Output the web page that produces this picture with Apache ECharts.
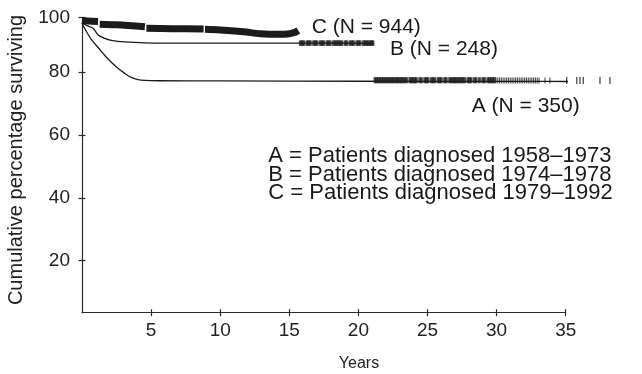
<!DOCTYPE html>
<html>
<head>
<meta charset="utf-8">
<script src="https://cdn.jsdelivr.net/npm/echarts@6/dist/echarts.min.js"></script>
<style>
html,body{margin:0;padding:0;background:#fff;}
#chart{width:642px;height:374px;}
</style>
</head>
<body>
<div id="chart"></div>
<script>
// ---- data ----
const xTickValues = [5, 10, 15, 20, 25, 30, 35];
const yTickValues = [20, 40, 60, 80, 97.3];
const yTickLabels = ['20', '40', '60', '80', '100'];

// Curve A (1958–1973)
const aTime = [0, 0.14, 0.67, 1.17, 1.67, 2.12, 2.6, 3.09, 3.57, 4.05, 4.54, 5.5, 10, 20, 30, 38.2];
const aSurv = [95.5, 94.2, 90.3, 87.7, 85.1, 83.0, 81.1, 79.5, 78.2, 77.5, 77.25, 77.15, 77.1, 77.0, 76.95, 76.9];
// Curve B (1974–1978)
const bTime = [0, 0.4, 0.8, 1.17, 1.64, 2.12, 3.09, 4.54, 8, 15.8, 21.1];
const bSurv = [95.5, 94.6, 93.8, 91.7, 90.6, 90.0, 89.5, 89.2, 89.1, 89.1, 89.0];
// Curve C (1979–1992) — null marks the small breaks in the printed line
const cTime = [0, 1.16, 1.22, 1.28, 2.5, 4.55, 4.6, 4.66, 6.5, 8.8, 8.85, 8.9, 10, 11.7, 12.9, 14.3, 15.0, 15.4, 15.65];
const cSurv = [96.2, 96.0, null, 95.1, 94.9, 94.3, null, 93.8, 93.7, 93.6, null, 93.5, 93.3, 92.7, 92.1, 91.9, 92.1, 92.5, 93.1];

// censoring times
const aCensor = [21.20, 21.32, 21.44, 21.56, 21.68, 21.80, 21.92, 22.04, 22.16, 22.28, 22.40, 22.52, 22.64, 22.76, 22.88,
  23.00, 23.12, 23.24, 23.36, 23.48, 23.72, 23.84, 23.96, 24.08, 24.20, 24.44, 24.56, 24.80, 24.92, 25.04,
  25.28, 25.40, 25.52, 25.76, 25.88, 26.00, 26.24, 26.36, 26.60, 26.72, 26.84, 26.96, 27.08, 27.20, 27.32,
  27.44, 27.56, 27.68, 27.92, 28.04, 28.16, 28.40, 28.52, 28.76, 29.00, 29.12, 29.36, 29.48, 29.60, 29.72, 29.84,
  29.95, 30.08, 30.21, 30.34, 30.47, 30.60, 30.73, 30.86, 30.99, 31.12, 31.25, 31.38, 31.51, 31.64, 31.77,
  31.90, 32.03, 32.16, 32.29, 32.42, 32.55, 32.68, 32.81, 32.94, 33.07, 33.50, 33.86,
  35.07, 35.80, 36.03, 36.27, 37.48, 38.20];
const bCensor = [15.80, 15.92, 16.04, 16.28, 16.40, 16.52, 16.76, 16.88, 17.00, 17.24, 17.36, 17.48, 17.72, 17.84,
  17.96, 18.20, 18.32, 18.44, 18.56, 18.68, 18.80, 19.04, 19.16, 19.40, 19.52, 19.64, 19.88, 20.00, 20.12,
  20.36, 20.48, 20.60, 20.72, 20.84, 20.96, 21.05];

const labelC = 'C (N = 944)';
const labelB = 'B (N = 248)';
const labelA = 'A (N = 350)';
const keyLines = ['A = Patients diagnosed 1958–1973', 'B = Patients diagnosed 1974–1978', 'C = Patients diagnosed 1979–1992'];
const xName = 'Years';
const yName = 'Cumulative percentage surviving';

// ---- build ----
const FONT = "'Liberation Sans', Arial, Helvetica, sans-serif";
const INK = '#1b1b1b';
function pairs(t, s) { return t.map((v, i) => [v, s[i] === null ? '-' : s[i]]); }
function stepAt(t, s, x) { let v = s[0]; for (let i = 0; i < t.length; i++) { if (t[i] <= x && s[i] !== null) v = s[i]; } return v; }

const chart = echarts.init(document.getElementById('chart'), null, { renderer: 'canvas' });
const axisLineStyle = { color: '#2a2a2a', width: 1.2 };
const baseX = { type: 'value', min: 0, max: 35, gridIndex: 0, position: 'bottom', splitLine: { show: false } };
const baseY = { type: 'value', min: 3.5, max: 97.3, gridIndex: 0, position: 'left', splitLine: { show: false } };

chart.setOption({
  animation: false,
  backgroundColor: '#fff',
  grid: { left: 82, right: 76.3, top: 17.3, bottom: 61.3, containLabel: false },
  xAxis: [
    Object.assign({}, baseX, {
      axisLine: { show: true, lineStyle: axisLineStyle },
      axisTick: { show: true, length: 3.5, customValues: xTickValues, lineStyle: axisLineStyle },
      axisLabel: { show: true, customValues: xTickValues, margin: 9, fontFamily: FONT, fontSize: 19, color: '#222' }
    }),
    Object.assign({}, baseX, {
      axisLine: { show: false },
      axisTick: { show: true, inside: true, length: 3.5, customValues: xTickValues, lineStyle: axisLineStyle },
      axisLabel: { show: false }
    })
  ],
  yAxis: [
    Object.assign({}, baseY, {
      axisLine: { show: true, lineStyle: axisLineStyle },
      axisTick: { show: true, length: 3.5, customValues: yTickValues, lineStyle: axisLineStyle },
      axisLabel: {
        show: true, customValues: yTickValues, margin: 12, fontFamily: FONT, fontSize: 19, color: '#222',
        formatter: function (v) { const i = yTickValues.indexOf(v); return i >= 0 ? yTickLabels[i] : ''; }
      }
    }),
    Object.assign({}, baseY, {
      axisLine: { show: false },
      axisTick: { show: true, inside: true, length: 3.5, customValues: yTickValues, lineStyle: axisLineStyle },
      axisLabel: { show: false }
    })
  ],
  series: [
    {
      name: 'A', type: 'line', data: pairs(aTime, aSurv), showSymbol: false, smooth: 0.3, clip: false,
      lineStyle: { color: INK, width: 1.3 }
    },
    {
      name: 'B', type: 'line', data: pairs(bTime, bSurv), showSymbol: false, smooth: 0.3, clip: false,
      lineStyle: { color: INK, width: 1.3 }
    },
    {
      name: 'C', type: 'line', data: pairs(cTime, cSurv), showSymbol: false, smooth: 0.3, clip: false,
      connectNulls: false, lineStyle: { color: INK, width: 7, cap: 'butt', join: 'round' }
    },
    {
      name: 'A censored', type: 'scatter', clip: false, symbol: 'rect',
      data: aCensor.map(t => [t, stepAt(aTime, aSurv, t)]),
      symbolSize: function (v) { return v[0] < 29.9 ? [2.9, 6] : (v[0] < 34 ? [1.1, 6] : [1.3, 7]); },
      symbolOffset: [0, -1],
      itemStyle: { color: INK }
    },
    {
      name: 'B censored', type: 'scatter', clip: false, symbol: 'rect',
      data: bCensor.map(t => [t, stepAt(bTime, bSurv, t)]),
      symbolSize: [2.9, 5.5],
      itemStyle: { color: INK }
    }
  ],
  graphic: [
    { type: 'text', x: 311.7, y: 27, style: { text: labelC, font: '21px ' + FONT, fill: '#1a1a1a', textAlign: 'left', textVerticalAlign: 'middle' } },
    { type: 'text', x: 390, y: 49, style: { text: labelB, font: '21px ' + FONT, fill: '#1a1a1a', textAlign: 'left', textVerticalAlign: 'middle' } },
    { type: 'text', x: 471.7, y: 106, style: { text: labelA, font: '21px ' + FONT, fill: '#1a1a1a', textAlign: 'left', textVerticalAlign: 'middle' } },
    { type: 'text', x: 268.3, y: 156.4, style: { text: keyLines[0], font: '22px ' + FONT, fill: '#1a1a1a', textAlign: 'left', textVerticalAlign: 'middle' } },
    { type: 'text', x: 268.3, y: 174.7, style: { text: keyLines[1], font: '22px ' + FONT, fill: '#1a1a1a', textAlign: 'left', textVerticalAlign: 'middle' } },
    { type: 'text', x: 268.3, y: 193, style: { text: keyLines[2], font: '22px ' + FONT, fill: '#1a1a1a', textAlign: 'left', textVerticalAlign: 'middle' } },
    { type: 'text', x: 359, y: 364, style: { text: xName, font: '16px ' + FONT, fill: '#222', textAlign: 'center', textVerticalAlign: 'middle' } },
    { type: 'text', x: 16, y: 160, rotation: Math.PI / 2, style: { text: yName, font: '20px ' + FONT, fill: '#222', textAlign: 'center', textVerticalAlign: 'middle' } }
  ]
});
</script>
</body>
</html>
